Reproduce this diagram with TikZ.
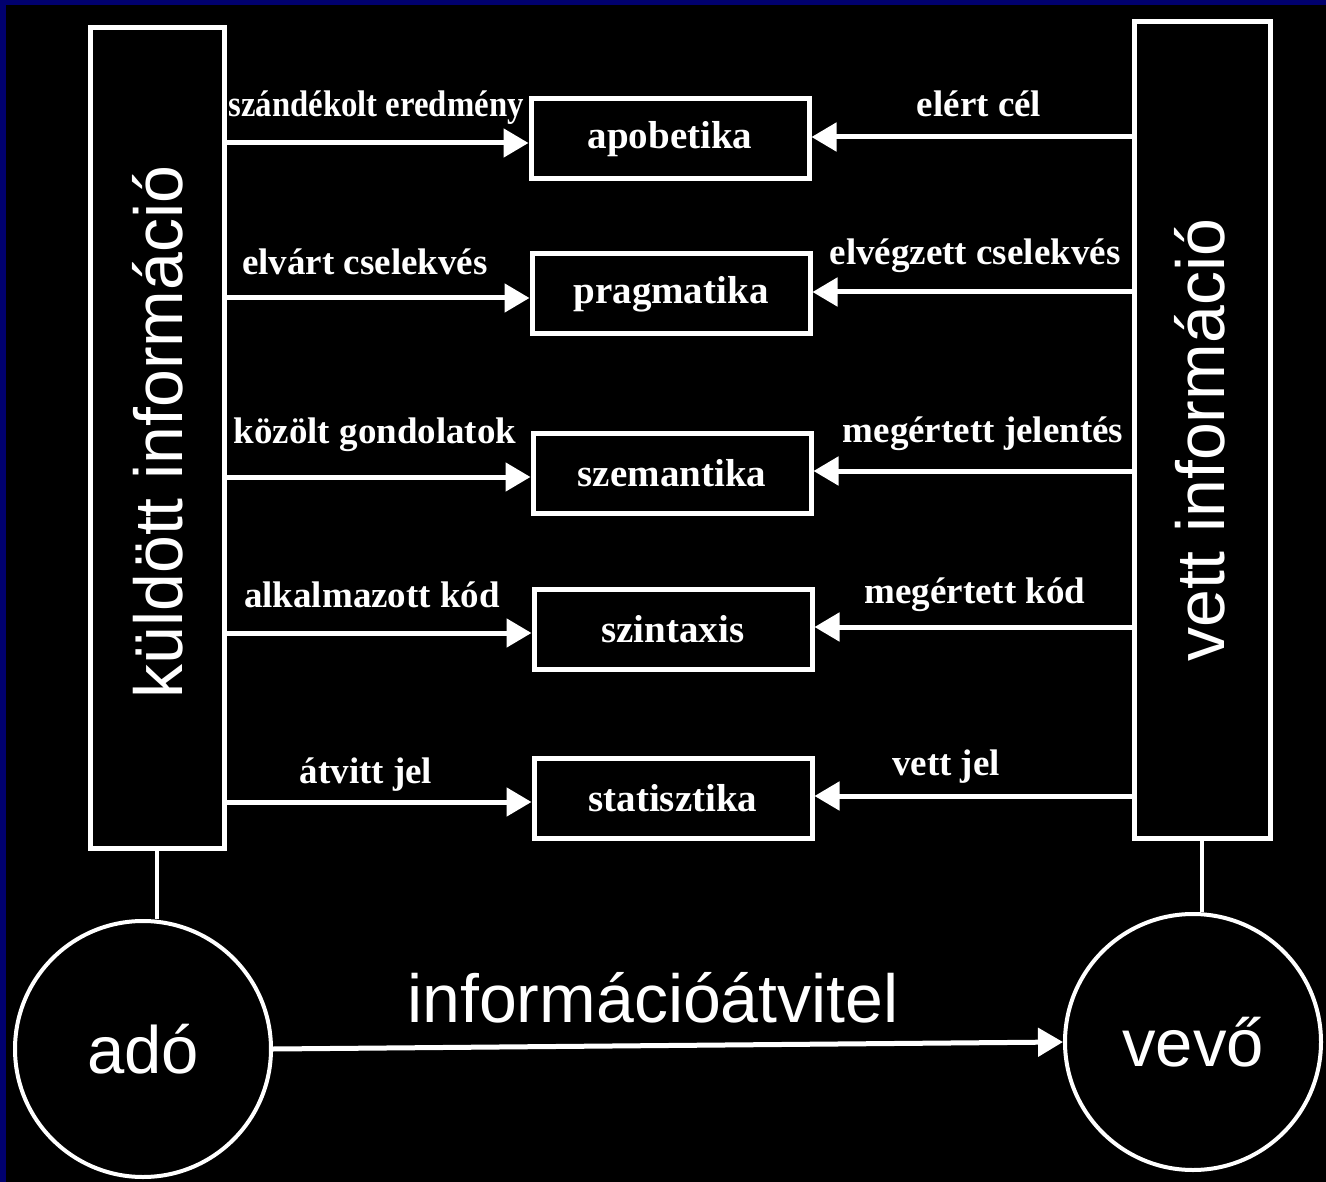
\documentclass[tikz,border=0pt]{standalone}
\usepackage{fontspec}
\setmainfont{Liberation Serif}
\setsansfont{Liberation Sans}
\usetikzlibrary{arrows.meta}
\definecolor{keret}{RGB}{0,0,110}

\begin{document}
\begin{tikzpicture}[x=1pt,y=-1pt,
    doboz/.style={draw=white, line width=5pt, inner sep=0pt, minimum width=278pt,
      minimum height=80pt, text=white, font=\bfseries\fontsize{39}{39}\selectfont},
    oszlop/.style={draw=white, line width=5pt, inner sep=0pt},
    oszlopszoveg/.style={rotate=90, inner sep=0pt, text=white,
      font=\sffamily\fontsize{68}{68}\selectfont},
    allomas/.style={circle, draw=white, line width=4pt, inner sep=0pt, minimum size=256pt,
      text=white, font=\sffamily\fontsize{67}{67}\selectfont},
    felirat/.style={anchor=base, inner sep=0pt, text=white,
      font=\bfseries\fontsize{37}{37}\selectfont},
    nyil/.style={draw=white, line width=5pt, -{Triangle[length=25pt,width=28pt]}}]

      % background
      \useasboundingbox (0,0) rectangle (1326,1182);
      \fill[black] (0,0) rectangle (1326,1182);
      \fill[keret] (0,0) rectangle (1326,5);
      \fill[keret] (0,0) rectangle (6,1182);

      % sender and receiver columns
      \node[oszlop, minimum width=134pt, minimum height=820pt] (kuld) at (157,438) {};
      \node[oszlopszoveg] at (158,432) {küldött információ};
      \node[oszlop, minimum width=136pt, minimum height=816pt] (vett) at (1202,430) {};
      \node[oszlopszoveg] at (1200,440) {vett információ};

      % levels
      \node[doboz] (apo)  at (670,139) {apobetika};
      \node[doboz] (prag) at (671,294) {pragmatika};
      \node[doboz] (szem) at (672,473) {szemantika};
      \node[doboz] (szin) at (673,629) {szintaxis};
      \node[doboz] (stat) at (673,798) {statisztika};

      \foreach \m in {apo,prag,szem,szin,stat}{
        \draw[nyil] ([yshift=-4pt]kuld.east |- \m.west) -- ([yshift=-4pt]\m.west);
        \draw[nyil] ([yshift=2pt]vett.west |- \m.east) -- ([yshift=2pt]\m.east);
      }

      % labels on the arrows
      \node[felirat] at (376,117) {\scalebox{0.886}[1]{szándékolt eredmény}};
      \node[felirat] at (365,275) {elvárt cselekvés};
      \node[felirat] at (375,443) {közölt gondolatok};
      \node[felirat] at (372,607) {alkalmazott kód};
      \node[felirat] at (366,783) {átvitt jel};
      \node[felirat] at (979,117) {elért cél};
      \node[felirat] at (975,265) {elvégzett cselekvés};
      \node[felirat] at (983,442) {megértett jelentés};
      \node[felirat] at (975,603) {megértett kód};
      \node[felirat] at (946,775) {vett jel};

      % stations
      \node[allomas] (ado)  at (143,1049) {adó};
      \node[allomas] (vevo) at (1193,1042) {vevő};
      \draw[white, line width=4pt] (kuld.south) -- (kuld.south |- ado.north);
      \draw[white, line width=4pt] (vett.south) -- (vett.south |- vevo.north);
      \draw[nyil] (ado.east) -- (vevo.west);
      \node[anchor=base, inner sep=0pt, text=white, font=\sffamily\fontsize{68}{68}\selectfont]
        at (653,1022) {információátvitel};
\end{tikzpicture}
\end{document}
